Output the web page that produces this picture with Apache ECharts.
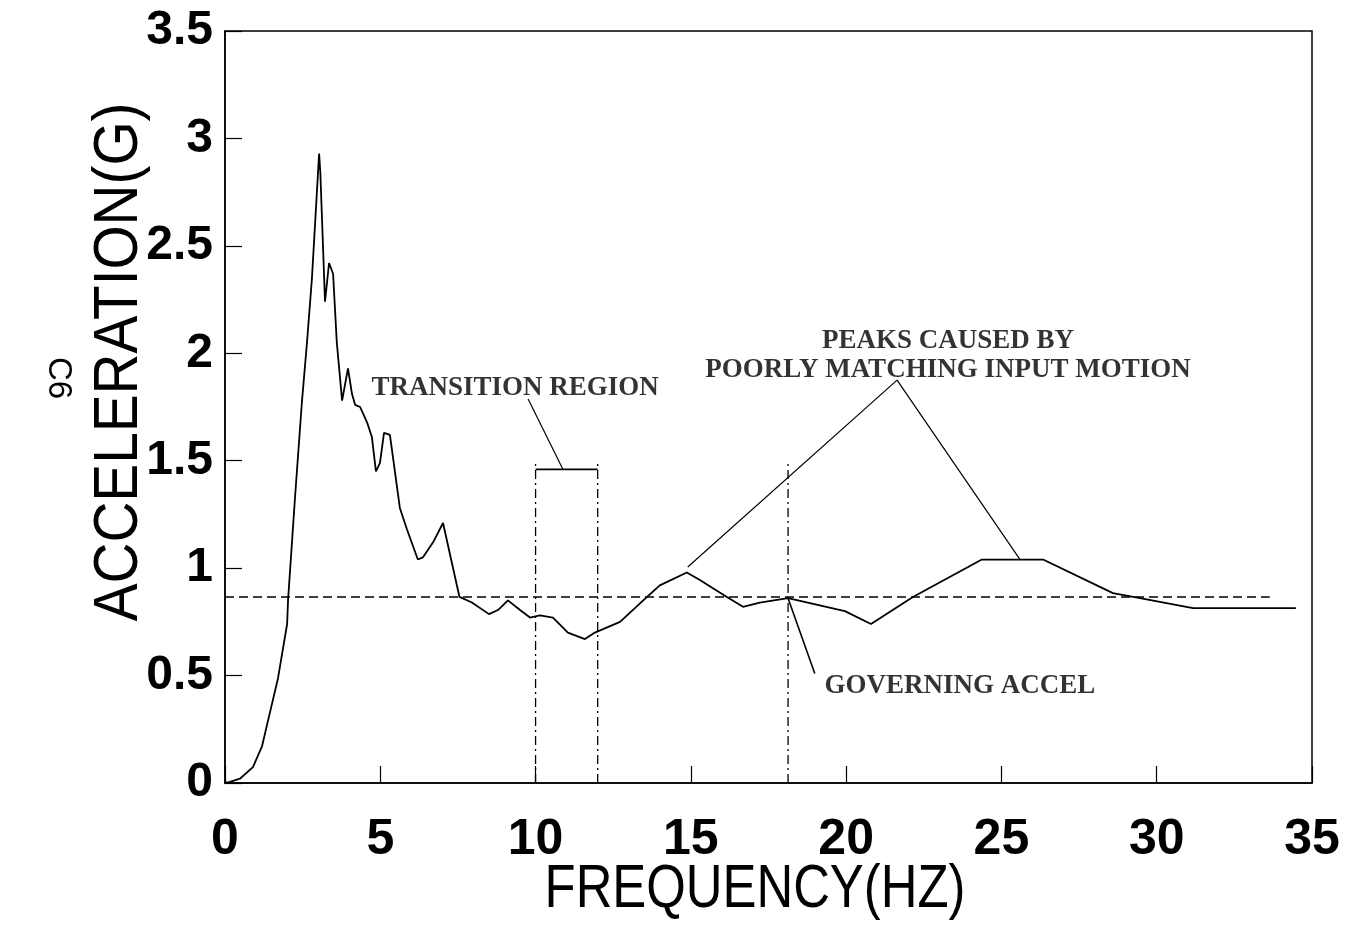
<!DOCTYPE html>
<html>
<head>
<meta charset="utf-8">
<script src="https://cdn.jsdelivr.net/npm/echarts@6/dist/echarts.min.js"></script>
<style>html,body{margin:0;padding:0;background:#fff}#c{width:1349px;height:925px}</style>
</head>
<body>
<div id="c"></div>
<script>
// ---- data ----
const freq = [0, 0.16, 0.48, 0.9, 1.19, 1.45, 1.71, 2.0, 2.03, 2.25, 2.48, 2.64, 2.8, 3.03, 3.07, 3.22, 3.35, 3.48, 3.6, 3.77, 3.96, 4.09, 4.19, 4.35, 4.57, 4.73, 4.86, 4.99, 5.12, 5.31, 5.63, 5.86, 6.21, 6.37, 6.7, 7.02, 7.55, 7.95, 8.5, 8.79, 9.11, 9.5, 9.82, 10.14, 10.56, 11.04, 11.59, 11.91, 12.72, 13.59, 14.0, 14.87, 15.29, 16.16, 16.68, 17.22, 18.13, 19.96, 20.8, 22.15, 24.37, 26.34, 28.59, 29.46, 31.17, 32.84, 34.48];
const accel = [0, 0.005, 0.02, 0.074, 0.17, 0.33, 0.49, 0.74, 0.85, 1.32, 1.78, 2.05, 2.35, 2.93, 2.84, 2.24, 2.42, 2.37, 2.05, 1.78, 1.93, 1.81, 1.76, 1.75, 1.68, 1.61, 1.45, 1.49, 1.63, 1.62, 1.28, 1.18, 1.04, 1.05, 1.12, 1.21, 0.866, 0.84, 0.786, 0.805, 0.85, 0.805, 0.77, 0.78, 0.77, 0.70, 0.67, 0.70, 0.75, 0.866, 0.92, 0.98, 0.945, 0.866, 0.82, 0.84, 0.86, 0.80, 0.74, 0.866, 1.04, 1.04, 0.884, 0.86, 0.814, 0.814, 0.814];
const governingAccel = 0.866;
const governingLineEnd = 33.64;
const transitionStart = 10;
const transitionEnd = 12;
const governingFreq = 18.13;
const markerTop = 1.5;
const bracketLevel = 1.46;
const transitionLeader = [[10.88, 1.46], [9.76, 1.787]];
const peaksLeader = [[14.9, 1.005], [21.64, 1.875], [25.6, 1.04]];
const governingLeader = [[18.13, 0.86], [18.99, 0.51]];
const xTicks = [0, 5, 10, 15, 20, 25, 30, 35];
const yTicks = [0, 0.5, 1, 1.5, 2, 2.5, 3, 3.5];
const notes = [
  {text: 'TRANSITION REGION', x: 9.34, y: 1.838},
  {text: 'PEAKS CAUSED BY', x: 23.28, y: 2.057},
  {text: 'POORLY MATCHING INPUT MOTION', x: 23.28, y: 1.92},
  {text: 'GOVERNING ACCEL', x: 23.66, y: 0.451}
];

const curve = freq.map((f, i) => [f, accel[i]]);
const black = '#000';
const dashDot = [9, 4, 2, 4];
const thin = {color: black, width: 1.8};

const chart = echarts.init(document.getElementById('c'), null, {renderer: 'canvas'});
chart.setOption({
  backgroundColor: '#fff',
  animation: false,
  grid: {left: 225, right: 37, top: 31, bottom: 142, show: true, borderColor: black, borderWidth: 1.5, backgroundColor: 'transparent'},
  xAxis: {
    type: 'value', min: xTicks[0], max: xTicks[xTicks.length - 1], interval: 5,
    axisLine: {lineStyle: {color: black, width: 1.5}},
    axisTick: {inside: true, length: 17, lineStyle: {color: black, width: 1.2}},
    splitLine: {show: false},
    axisLabel: {color: black, fontFamily: '"Liberation Sans", Arial', fontWeight: 'bold', fontSize: 50, margin: 32,
      formatter: v => String(v)}
  },
  yAxis: {
    type: 'value', min: yTicks[0], max: yTicks[yTicks.length - 1], interval: 0.5,
    axisLine: {lineStyle: {color: black, width: 1.5}},
    axisTick: {inside: true, length: 17, lineStyle: {color: black, width: 1.2}},
    splitLine: {show: false},
    axisLabel: {color: black, fontFamily: '"Liberation Sans", Arial', fontWeight: 'bold', fontSize: 48, margin: 12,
      formatter: v => String(v)}
  },
  graphic: [
    {type: 'text', x: 755, y: 890, scaleX: 0.82, style: {text: 'FREQUENCY(HZ)', fill: black, align: 'center', verticalAlign: 'middle', font: '62px "Liberation Sans", Arial'}},
    {type: 'text', x: 88, y: 362, rotation: Math.PI / 2, scaleX: 0.9, style: {text: 'ACCELERATION(G)', fill: black, align: 'center', verticalAlign: 'top', font: '63px "Liberation Sans", Arial'}},
    {type: 'text', x: 58, y: 378, rotation: -Math.PI / 2, style: {text: 'C6', fill: black, align: 'center', verticalAlign: 'middle', font: '33px "Liberation Sans", Arial'}}
  ],
  series: [
    {type: 'line', data: curve, symbol: 'none', lineStyle: thin, z: 5},
    {type: 'line', data: [[0, governingAccel], [governingLineEnd, governingAccel]], symbol: 'none', lineStyle: {color: black, width: 1.5, type: [9, 5]}},
    {type: 'line', data: [[transitionStart, 0], [transitionStart, markerTop]], symbol: 'none', lineStyle: {color: black, width: 1.3, type: dashDot}},
    {type: 'line', data: [[transitionEnd, 0], [transitionEnd, markerTop]], symbol: 'none', lineStyle: {color: black, width: 1.3, type: dashDot}},
    {type: 'line', data: [[governingFreq, 0], [governingFreq, markerTop]], symbol: 'none', lineStyle: {color: black, width: 1.3, type: dashDot}},
    {type: 'line', data: [[transitionStart, bracketLevel], [transitionEnd, bracketLevel]], symbol: 'none', lineStyle: thin},
    {type: 'line', data: transitionLeader, symbol: 'none', lineStyle: {color: black, width: 1.2}},
    {type: 'line', data: peaksLeader, symbol: 'none', lineStyle: {color: black, width: 1.2}},
    {type: 'line', data: governingLeader, symbol: 'none', lineStyle: {color: black, width: 1.6}},
    {type: 'scatter', symbolSize: 0, data: notes.map(n => ({value: [n.x, n.y], name: n.text})),
      label: {show: true, position: 'inside', formatter: p => p.name, color: black,
        fontFamily: '"Liberation Serif", "Times New Roman", serif', fontWeight: 'bold', fontSize: 27}}
  ]
});
</script>
</body>
</html>
